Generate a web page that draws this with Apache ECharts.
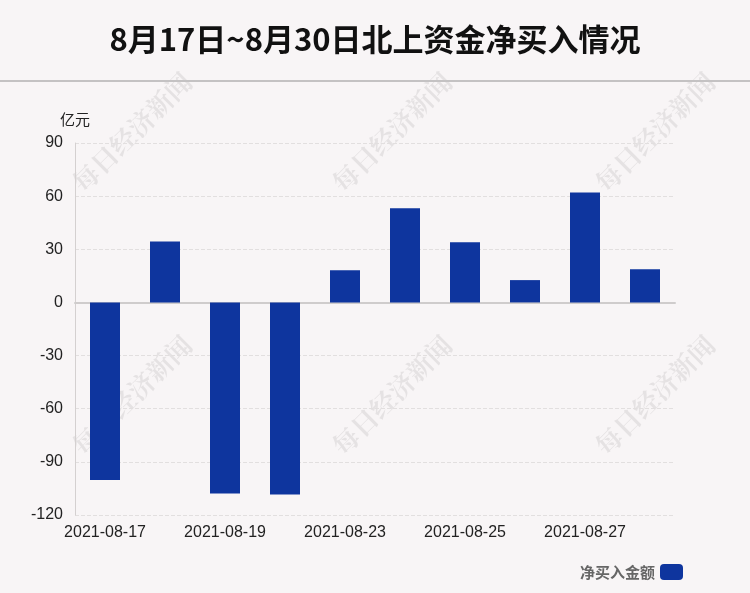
<!DOCTYPE html>
<html>
<head>
<meta charset="utf-8">
<script src="https://cdn.jsdelivr.net/npm/echarts@6/dist/echarts.min.js"></script>
<style>
html,body{margin:0;padding:0;background:#f8f5f6;}
#chart{width:750px;height:593px;}
</style>
</head>
<body>
<div id="chart"></div>
<script>
const categories = ['2021-08-17','2021-08-18','2021-08-19','2021-08-20','2021-08-23','2021-08-24','2021-08-25','2021-08-26','2021-08-27','2021-08-30'];
const netBuy = [-100.3, 34.4, -107.8, -108.4, 18.2, 53.2, 34.0, 12.6, 62.1, 18.8];
const yTicks = [-120, -90, -60, -30, 0, 30, 60, 90];
const titleText = '8月17日~8月30日北上资金净买入情况';
const seriesName = '净买入金额';
const unitName = '亿元';

const chart = echarts.init(document.getElementById('chart'));
const wmPos = [[132,132],[392,132],[655,132],[132,395],[392,395],[655,395]];
const graphics = [{
  type:'line', shape:{x1:0,y1:81,x2:750,y2:81}, style:{stroke:'#c4c2c3', lineWidth:2}, z:10
}];
wmPos.forEach(p=>{
  graphics.push({
    type:'text', x:p[0], y:p[1], rotation:Math.PI/4, z:-1,
    style:{text:'每日经济新闻', font:'bold 26px "Noto Serif CJK SC","Noto Sans CJK SC",serif', fill:'rgba(0,0,0,0.075)', align:'center', verticalAlign:'middle'}
  });
});
chart.setOption({
  backgroundColor:'#f8f5f6',
  title:{text:titleText, left:'center', top:19, textStyle:{fontSize:31, fontWeight:'bold', color:'#111', fontFamily:'"Liberation Sans Narrow","Noto Sans CJK SC",sans-serif'}},
  graphic:graphics,
  legend:{right:62, bottom:8, icon:'roundRect', itemWidth:23, itemHeight:16, align:'right', itemGap:6,
    textStyle:{fontSize:15, fontWeight:'bold', color:'#666', fontFamily:'"Noto Sans CJK SC",sans-serif'}, data:[seriesName]},
  grid:{left:75, right:75, top:143, bottom:78},
  xAxis:{type:'category', data:categories,
    axisLine:{lineStyle:{color:'#cfcccc', width:2}},
    axisTick:{show:false},
    axisLabel:{interval:1, fontSize:16, color:'#222', margin:10, fontFamily:'"Liberation Sans",Arial,sans-serif'}},
  yAxis:{type:'value', min:yTicks[0], max:yTicks[yTicks.length-1], interval:30,
    name:unitName, nameGap:16, nameTextStyle:{fontSize:15, color:'#222', fontFamily:'"Noto Sans CJK SC",sans-serif'},
    axisLine:{show:true, lineStyle:{color:'#d4d0d0'}},
    axisTick:{show:false},
    axisLabel:{fontSize:16, color:'#222', margin:12, fontFamily:'"Liberation Sans",Arial,sans-serif'},
    splitLine:{lineStyle:{type:'dashed', color:'#e2dfdf'}}},
  series:[{name:seriesName, type:'bar', data:netBuy, barWidth:'50%', itemStyle:{color:'#0e359e'}}]
});
</script>
</body>
</html>
